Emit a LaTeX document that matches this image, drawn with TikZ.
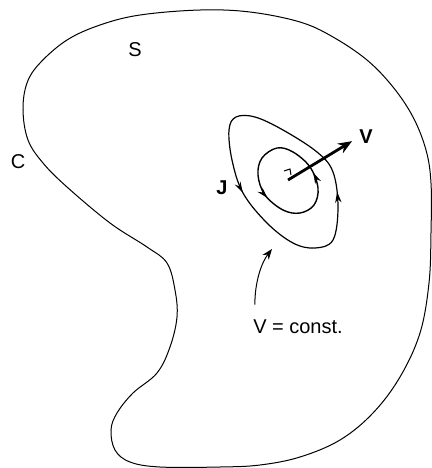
\documentclass[tikz,border=0pt]{standalone}
\usepackage{fontspec}
\setsansfont{Liberation Sans}
\usetikzlibrary{arrows.meta, positioning, decorations.markings}

\begin{document}
\begin{tikzpicture}[>=Stealth, x=0.5pt, y=-0.5pt,
    lbl/.style={font=\sffamily\fontsize{10}{11}\selectfont, inner sep=0pt},
    vec/.style={font=\sffamily\bfseries\fontsize{10}{11}\selectfont, inner sep=0pt},
    flow/.style 2 args={decoration={markings,
        mark=at position #1 with {\arrow{Stealth[length=5.5pt, width=3.2pt]}},
        mark=at position #2 with {\arrow{Stealth[length=5.5pt, width=3.2pt]}}},
        postaction=decorate}]
  \useasboundingbox (0,0) rectangle (432,468);

  % boundary C of the surface S
  \draw[line width=0.5pt] plot[smooth cycle, tension=0.6] coordinates {
    (200,10) (250,12) (300,22) (333,37) (367,60) (393,87) (413,117)
    (426,150) (431,183) (431,233) (429,283) (420,333) (400,377)
    (373,413) (340,440) (300,457) (260,465) (220,467) (160,467)
    (130,462) (115,450) (111,430) (117,413) (133,393) (157,373)
    (170,347) (177,317) (175,290) (167,263) (147,247) (110,223)
    (67,187) (43,163) (28,140) (23,110) (27,83) (40,63) (67,40)
    (100,25) (140,15)};

  % contours V = const.
  \draw[line width=0.6pt, flow={0.17}{0.6}] plot[smooth cycle, tension=0.6] coordinates {
    (236,117) (229,130) (232,160) (243,193) (267,223) (293,243)
    (315,248) (333,240) (338,207) (333,172) (317,152) (283,130)
    (255,117)};
  \draw[line width=0.7pt, flow={0.22}{0.67}] plot[smooth cycle, tension=0.6] coordinates {
    (277,148) (262,158) (258,175) (265,195) (283,210) (300,213)
    (314,205) (318,188) (310,167) (293,152)};

  \node[lbl] (s) at (135,50) {S};
  \node[lbl] (c) at (18,162) {C};
  \node[vec] (j) at (222,188) {J};
  \node[vec] (v) at (366,137) {V};
  \node[lbl] (vc) at (298,327) {V = const.};

  \coordinate (o) at (288,180);
  \coordinate (ptip) at (272,249);

  \draw[line width=1.4pt, -{Stealth[open, length=7pt, width=5.5pt]}, shorten >=4pt] (o) -- (v.west);
  \draw[line width=0.5pt] (284,171) -- (290,169) -- (291,175);
  \draw[->, line width=0.5pt] ([xshift=1pt, yshift=7.5pt]vc.north west)
    .. controls +(0,12pt) and (262,262) .. (ptip);
\end{tikzpicture}
\end{document}
